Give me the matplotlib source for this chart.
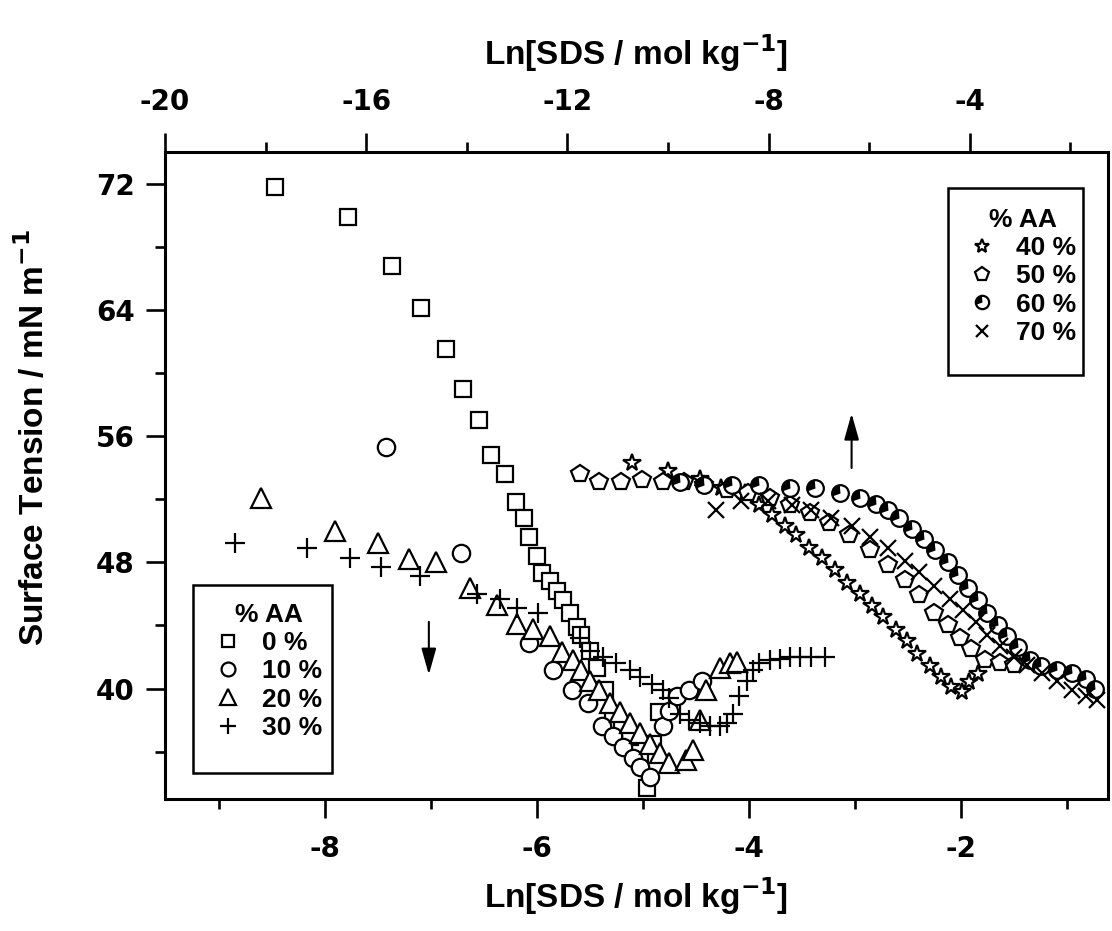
import numpy as np
import matplotlib
matplotlib.use('Agg')
from matplotlib import pyplot as plt
from matplotlib.path import Path
from matplotlib.patches import Rectangle

plt.rcParams['font.family'] = ['Liberation Sans', 'DejaVu Sans']
plt.rcParams['font.weight'] = 'bold'
plt.rcParams['axes.unicode_minus'] = False
plt.rcParams['mathtext.default'] = 'bf'

# 0 % AA (squares)
x0 = [-8.47, -7.78, -7.37, -7.09, -6.86, -6.70, -6.55, -6.43, -6.30, -6.20, -6.12, -6.07, -6.00,
      -5.95, -5.88, -5.81, -5.75, -5.69, -5.62, -5.58, -5.50, -5.43, -5.36, -5.28, -5.20, -5.12,
      -5.03, -4.96, -4.90, -4.85]
y0 = [71.8, 69.9, 66.8, 64.1, 61.5, 59.0, 57.0, 54.8, 53.6, 51.8, 50.8, 49.6, 48.4,
      47.3, 46.8, 46.2, 45.6, 44.8, 43.9, 43.4, 42.4, 41.3, 39.9, 38.4, 37.6, 36.9,
      35.4, 33.7, 36.5, 38.5]
# 10 % AA (circles)
x1 = [-7.42, -6.72, -6.07, -5.85, -5.67, -5.52, -5.39, -5.28, -5.19, -5.09, -5.03, -4.93,
      -4.81, -4.75, -4.68, -4.56, -4.44]
y1 = [55.3, 48.6, 42.9, 41.2, 39.9, 39.1, 37.6, 37.0, 36.3, 35.6, 35.0, 34.4,
      37.6, 38.6, 39.5, 39.9, 40.5]
# 20 % AA (triangles)
x2 = [-8.60, -7.91, -7.50, -7.21, -6.95, -6.63, -6.38, -6.19, -6.04, -5.88, -5.76, -5.66, -5.58,
      -5.50, -5.41, -5.31, -5.22, -5.12, -5.03, -4.93, -4.84, -4.75, -4.59, -4.53, -4.46, -4.40,
      -4.27, -4.18, -4.11]
y2 = [52.1, 50.0, 49.2, 48.2, 48.0, 46.4, 45.3, 44.1, 43.8, 43.3, 42.3, 41.8, 41.2,
      40.5, 39.9, 39.1, 38.5, 37.8, 37.2, 36.5, 35.9, 35.3, 35.5, 36.1, 38.0, 39.9,
      41.3, 41.6, 41.7]
# 30 % AA (plus)
x3 = [-8.85, -8.17, -7.76, -7.47, -7.10, -6.57, -6.35, -6.19, -5.99, -5.59, -5.50, -5.38, -5.25,
      -5.12, -5.03, -4.91, -4.81, -4.75, -4.65, -4.56, -4.46, -4.37, -4.27, -4.21, -4.15, -4.09,
      -4.02, -3.96, -3.90, -3.80, -3.71, -3.61, -3.52, -3.41, -3.28]
y3 = [49.2, 48.9, 48.3, 47.7, 47.1, 46.0, 45.7, 45.1, 44.8, 43.2, 42.4, 42.0, 41.6,
      41.2, 40.7, 40.3, 39.9, 39.4, 38.4, 38.0, 37.8, 37.6, 37.6, 37.8, 38.4, 39.5,
      40.5, 41.2, 41.6, 41.8, 41.9, 42.0, 42.0, 42.0, 42.0]
# 40 % AA (stars)
x4 = [-5.10, -4.76, -4.46, -4.26, -4.04, -3.90, -3.78, -3.66, -3.55, -3.43, -3.31, -3.19, -3.07,
      -2.95, -2.84, -2.73, -2.61, -2.51, -2.41, -2.29, -2.19, -2.09, -1.99, -1.92, -1.84]
y4 = [54.3, 53.8, 53.3, 52.7, 52.4, 51.6, 51.0, 50.3, 49.7, 48.9, 48.3, 47.5, 46.7,
      46.0, 45.2, 44.5, 43.7, 43.0, 42.2, 41.4, 40.7, 40.1, 39.8, 40.4, 40.9]
# 50 % AA (pentagons)
x5 = [-5.59, -5.41, -5.21, -5.01, -4.81, -4.61, -4.42, -4.21, -4.01, -3.80, -3.61, -3.42, -3.24,
      -3.05, -2.86, -2.69, -2.53, -2.39, -2.25, -2.12, -2.01, -1.90, -1.77, -1.63, -1.50]
y5 = [53.6, 53.1, 53.1, 53.2, 53.1, 53.1, 52.9, 52.6, 52.4, 52.1, 51.6, 51.1, 50.5,
      49.7, 48.8, 47.8, 46.9, 45.9, 44.8, 44.0, 43.2, 42.5, 41.8, 41.6, 41.5]
# 60 % AA (circles with a dark segment)
x6 = [-4.65, -4.42, -4.16, -3.90, -3.61, -3.38, -3.14, -2.95, -2.80, -2.69, -2.58, -2.46, -2.35,
      -2.24, -2.12, -2.03, -1.93, -1.84, -1.75, -1.65, -1.56, -1.46, -1.35, -1.24, -1.09, -0.95,
      -0.82, -0.73]
y6 = [53.1, 52.9, 52.9, 52.9, 52.7, 52.7, 52.4, 52.1, 51.7, 51.3, 50.8, 50.1, 49.5,
      48.8, 48.0, 47.2, 46.4, 45.6, 44.8, 44.0, 43.3, 42.6, 41.8, 41.4, 41.2, 41.0,
      40.6, 40.0]
# 70 % AA (x)
x7 = [-4.31, -4.07, -3.82, -3.59, -3.41, -3.22, -3.03, -2.86, -2.69, -2.53, -2.39, -2.25, -2.10,
      -1.98, -1.86, -1.75, -1.63, -1.50, -1.37, -1.23, -1.09, -0.95, -0.82, -0.71]
y7 = [51.3, 51.9, 51.9, 51.6, 51.3, 50.8, 50.3, 49.6, 48.9, 48.1, 47.4, 46.5, 45.7,
      45.0, 44.2, 43.4, 42.7, 42.0, 41.5, 41.0, 40.5, 39.9, 39.5, 39.3]

fig = plt.figure(figsize=(11.12, 9.31), dpi=100)
ax = fig.add_axes([0.1484, 0.1418, 0.848, 0.695])

kw = dict(linestyle='none', mfc='white', mec='black', mew=1.6)
h0, = ax.plot(x0, y0, marker='s', ms=11, **kw)
h1, = ax.plot(x1, y1, marker='o', ms=12.5, **kw)
h2, = ax.plot(x2, y2, marker='^', ms=14, **kw)
h3, = ax.plot(x3, y3, marker='+', linestyle='none', color='black', mew=1.6, ms=14)
h4, = ax.plot(x4, y4, marker='*', ms=13, **kw)
h5, = ax.plot(x5, y5, marker='p', ms=13, **kw)
h6a, = ax.plot(x6, y6, marker='o', ms=12, **kw)
seg = Path.wedge(95, 200)
h6b, = ax.plot(x6, y6, marker=seg, linestyle='none', color='black', mew=0, ms=12)
h7, = ax.plot(x7, y7, marker='x', linestyle='none', color='black', mew=1.6, ms=11)

ax.set_xlim(-9.51, -0.61)
ax.set_ylim(33.0, 74.0)
ax.set_xticks([-8, -6, -4, -2])
ax.set_xticks(np.arange(-9, 0, 1), minor=True)
ax.set_yticks([40, 48, 56, 64, 72])
ax.set_yticks([36, 44, 52, 60, 68], minor=True)
for s in ax.spines.values():
    s.set_linewidth(2.2)
ax.tick_params(which='major', length=13.7, width=1.9)
ax.tick_params(which='minor', length=7.2, width=1.9)
ax.tick_params(axis='x', pad=12)
ax.tick_params(axis='y', pad=8)
for lab in ax.get_xticklabels() + ax.get_yticklabels():
    lab.set_family('DejaVu Sans')
    lab.set_fontsize(20)
    lab.set_fontweight('bold')
ax.set_xlabel('Ln[SDS / mol kg$^{-1}$]', fontsize=24, fontweight='bold', labelpad=9)
ax.set_ylabel('Surface Tension / mN m$^{-1}$', fontsize=24, fontweight='bold')
ax.yaxis.set_label_coords(-0.121, 0.558)

top = ax.twiny()
top.set_xlim(-20, -1.25)
top.set_xticks([-20, -16, -12, -8, -4])
top.set_xticks([-18, -14, -10, -6, -2], minor=True)
top.tick_params(which='major', length=13.7, width=1.9, pad=12)
top.tick_params(which='minor', length=7.2, width=1.9)
for lab in top.get_xticklabels():
    lab.set_family('DejaVu Sans')
    lab.set_fontsize(20)
    lab.set_fontweight('bold')
top.set_xlabel('Ln[SDS / mol kg$^{-1}$]', fontsize=24, fontweight='bold', labelpad=17)

# arrows
akw = dict(arrowstyle='-|>,head_length=1.6,head_width=0.45', color='black', lw=1.5)
ax.annotate('', xy=(-7.02, 40.7), xytext=(-7.02, 44.4), arrowprops=akw)
ax.annotate('', xy=(-3.03, 57.6), xytext=(-3.03, 53.8), arrowprops=akw)

# legends: frame drawn separately, content placed inside
for (x, y, w, h) in [(0.0297, 0.0402, 0.1474, 0.2906), (0.8303, 0.6553, 0.1432, 0.2891)]:
    ax.add_patch(Rectangle((x, y), w, h, transform=ax.transAxes, fill=False,
                           edgecolor='black', lw=1.8, zorder=5))

legkw = dict(title='% AA', frameon=False, prop={'size': 19, 'weight': 'bold'},
             title_fontproperties={'size': 19, 'weight': 'bold'},
             handlelength=1.0, handletextpad=0.79, markerscale=0.8, borderpad=0,
             labelspacing=0.16, borderaxespad=0, loc='upper left')
leg1 = ax.legend(handles=[h0, h1, h2, h3], labels=['0 %', '10 %', '20 %', '30 %'],
                 bbox_to_anchor=(0.0528, 0.3029), **legkw)
ax.add_artist(leg1)
leg2 = ax.legend(handles=[h4, h5, (h6a, h6b), h7], labels=['40 %', '50 %', '60 %', '70 %'],
                 bbox_to_anchor=(0.8524, 0.9134), **legkw)

plt.savefig('out.png', dpi=100)
